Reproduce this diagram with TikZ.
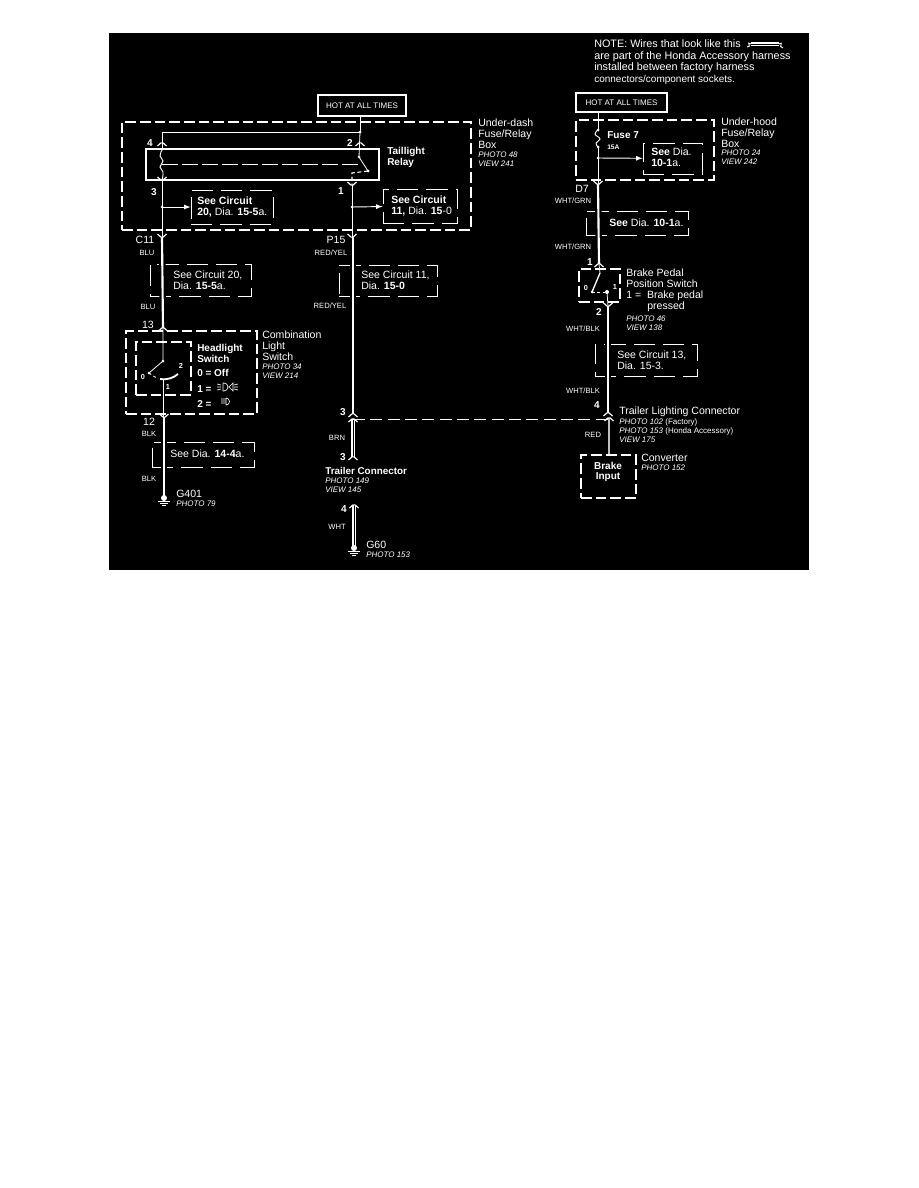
\documentclass[tikz,border=0pt]{standalone}
\usepackage{fontspec}
\setmainfont{Liberation Sans}
\usepackage{tikz}
\usetikzlibrary{shapes,arrows,positioning}

\tikzset{
  txt/.style={white,inner sep=0pt,anchor=west,align=left,font=\fontsize{7.9}{8.3}\selectfont},
  tiny/.style={txt,font=\fontsize{6}{6.8}\selectfont\itshape},
  wirelabel/.style={txt,anchor=center,font=\fontsize{5.7}{6}\selectfont},
  pin/.style={txt,anchor=center,font=\bfseries\fontsize{7.5}{8}\selectfont},
  pinplain/.style={txt,anchor=center,font=\fontsize{7.9}{8}\selectfont},
  bx/.style 2 args={minimum width=#1*0.75pt,minimum height=#2*0.75pt},
  hotbox/.style={draw=white,line width=0.9pt,inner sep=0pt,text=white,font=\fontsize{6}{6}\selectfont},
  compbox/.style={draw=white,dash pattern=on 8pt off 3pt,line width=1.2pt},
  seebox/.style={draw=white,dash pattern=on 16pt off 6pt,line width=0.6pt,text=white},
  wirethin/.style={draw=white,line width=0.6pt},
  wirefat/.style={draw=white,line width=1.6pt,preaction={draw=black,line width=5pt}},
  twin/.style={draw=white,line width=1.5pt,double=black,double distance=0.5pt},
  tap/.style={draw=white,line width=0.7pt,-latex},
  socket/.pic={\draw[white,line width=0.9pt,rounded corners=1pt] (-4.5,3) -- (0,-1) -- (4.5,3);},
  plugy/.pic={\draw[white,line width=0.9pt,rounded corners=1pt] (-4.5,-3) -- (0,1) -- (4.5,-3);},
  gnd/.pic={\fill[white] (0,0) circle (3);
    \draw[white,line width=0.7pt] (-6,3) -- (6,3) (-4,5) -- (4,5) (-2,7) -- (2,7);}
}

\begin{document}
\begin{tikzpicture}[x=0.75pt,y=-0.75pt]
\useasboundingbox (0,0) rectangle (918,1188);
\fill[black] (109,33) rectangle (809,570);

% note at the top
\node[txt,font=\fontsize{8.1}{8.8}\selectfont] (notetext) at (594,62) {NOTE: Wires that look like this\\are part of the Honda Accessory harness\\installed between factory harness\\{\fontsize{7.5}{8}\selectfont connectors/component sockets.}};
\coordinate (sampleL) at (751,44);
\coordinate (sampleR) at (779,44);
\draw[twin] (sampleL) -- (sampleR);
\draw[white,line width=0.7pt] (sampleL) .. controls (745,41) and (753,47) .. (747,47);
\draw[white,line width=0.7pt] (sampleR) .. controls (785,41) and (777,47) .. (783,48);

% under-dash box
\node[hotbox,bx={88}{21}] (hotdash) at (362,105.5) {HOT AT ALL TIMES};
\node[compbox,bx={349}{108}] (dashbox) at (296.5,176) {};
\node[draw=white,line width=1.1pt,bx={233}{31}] (relay) at (262.5,164.5) {};
\node[txt] (dashname) at (478,134) {Under-dash\\Fuse/Relay\\Box};
\node[tiny] (dashphoto) at (478,159.5) {PHOTO 48\\VIEW 241};
\node[txt,font=\bfseries\fontsize{7.5}{8.3}\selectfont] (relayname) at (387,157.5) {Taillight\\Relay};
\node[pin] (pinfour) at (150,143) {4};
\node[pin] (pintwo) at (350,143) {2};
\node[pin] (pinthree) at (154,192) {3};
\node[pin] (pinone) at (341,191) {1};
\node[seebox,bx={82}{34}] (seetwenty) at (232,207) {};
\node[txt] (seetwentyt) at (197,207) {\textbf{See Circuit}\\\textbf{20,} Dia. \textbf{15-5}a.};
\node[seebox,bx={74}{34}] (seeeleven) at (420,206) {};
\node[txt] (seeelevent) at (391,206) {\textbf{See Circuit}\\\textbf{11,} Dia. \textbf{15}-0};

\coordinate (feedT) at (360,116);
\coordinate (feedM) at (360,132);
\coordinate (coilW) at (162,132);
\coordinate (coilT) at (162,150);
\coordinate (coilB) at (162,180);
\coordinate (armT) at (359,157);
\coordinate (armB) at (368,171);
\coordinate (contact) at (352,173);
\coordinate (contactB) at (352,185);
\coordinate (leftJ) at (162,207);
\coordinate (midJ) at (352,207);
\coordinate (leftOut) at (162,237);
\coordinate (midOut) at (352,237);
\coordinate (tipfour) at (162,143);
\coordinate (tiptwo) at (360,143);
\draw[wirethin] (feedT) -- (feedM) -- (coilW) -- (coilT);
\draw[wirethin] (feedM) -- (armT);
\draw[wirethin] (armT) -- (armB);
\draw[white,line width=0.8pt,dash pattern=on 3pt off 2pt] (armB) -- (contact) -- (contactB);
\draw[white,line width=0.7pt] plot[smooth,tension=0.8] coordinates {(coilT) (160,156) (163,161) (160,167) (163,172) (coilB)};
\draw[white,line width=0.6pt,dash pattern=on 12pt off 3pt] (162,164) -- (358,164);
\draw[wirethin] (coilB) -- (leftOut);
\draw[wirethin] (contactB) -- (midOut);
\draw[tap] (leftJ) -- (seetwenty);
\draw[tap] (midJ) -- (seeeleven);
\fill[white] (leftJ) circle (1.5) (midJ) circle (1.5) (feedM) circle (1.5) (armT) circle (1.5) (armB) circle (1.5);

\node[pinplain] (cleven) at (145,240) {C11};
\node[pinplain] (pfifteen) at (336,240) {P15};
\node[wirelabel] (blua) at (147,253) {BLU};
\node[wirelabel] (redyela) at (331,253) {RED/YEL};

% left branch
\node[seebox,bx={101}{32}] (seeleft) at (200.5,280) {};
\node[txt] (seeleftt) at (173,280) {See Circuit 20,\\Dia. \textbf{15-5}a.};
\node[wirelabel] (blub) at (148,307) {BLU};
\node[pinplain] (pinthirteen) at (148,325) {13};
\coordinate (headT) at (163,328);
\draw[wirefat] (leftOut) -- (headT);

\node[compbox,bx={131}{83}] (combobox) at (191.5,372.5) {};
\node[compbox,line width=1pt,bx={55}{53}] (headbox) at (163.5,368.5) {};
\node[txt] (comboname) at (262,346) {Combination\\Light\\Switch};
\node[tiny] (combophoto) at (262,371.5) {PHOTO 34\\VIEW 214};
\node[txt,font=\bfseries\fontsize{7.5}{8.3}\selectfont] (headname) at (197,353.5) {Headlight\\Switch};
\node[txt,font=\bfseries\fontsize{7.5}{8.3}\selectfont] (headoff) at (197,373) {0 = Off};
\node[txt,font=\bfseries\fontsize{7.5}{8.3}\selectfont] (headone) at (197,389) {1 =};
\node[txt,font=\bfseries\fontsize{7.5}{8.3}\selectfont] (headtwo) at (197,404) {2 =};
\node[pin,font=\bfseries\fontsize{5.5}{6}\selectfont] (swzero) at (143,377) {0};
\node[pin,font=\bfseries\fontsize{5.5}{6}\selectfont] (swtwo) at (181,366) {2};
\node[pin,font=\bfseries\fontsize{5.5}{6}\selectfont] (swone) at (168,387) {1};

\coordinate (swT) at (163,361);
\coordinate (swL) at (149,373);
\coordinate (swB) at (163,380);
\coordinate (swR) at (178,374);
\coordinate (headB) at (163,417);
\draw[wirethin] (headT) -- (swT) -- (swL);
\draw[wirethin] (swB) -- (headB);
\draw[white,line width=1.4pt] (160,379) .. controls (168,380) and (173,378) .. (swR);
\draw[white,line width=0.7pt,dash pattern=on 2pt off 2pt] (swL) -- (158,379);
\fill[white] (swT) circle (1.5) (swL) circle (1.5);
% lamp symbols
\draw[white,line width=0.5pt] (217,384) -- (221,385) (217,387) -- (221,387) (217,390) -- (221,389)
  (223,383) -- (224,383) arc (-90:90:4) -- (223,391) -- cycle
  (233,383) -- (229,387) -- (233,391) -- cycle
  (234,385) -- (238,384) (234,387) -- (238,387) (234,389) -- (238,390);
\draw[white,line width=0.5pt] (221,399) -- (225,399) (221,401) -- (225,401) (221,403) -- (225,403) (226,398) -- (226,405) (226,398) arc (-90:90:3.5);

\node[pinplain] (pintwelve) at (149,422) {12};
\node[wirelabel] (blka) at (149,434) {BLK};
\node[seebox,bx={102}{25}] (seedown) at (203,454.5) {};
\node[txt] (seedownt) at (170,454) {See Dia. \textbf{14-4}a.};
\node[wirelabel] (blkb) at (149,479) {BLK};
\coordinate (headOut) at (164,417);
\coordinate (gndA) at (164,498);
\draw[wirefat] (headOut) -- (gndA);
\pic at (gndA) {gnd};
\node[txt] (gfour) at (176,494) {G401};
\node[tiny] (gfourphoto) at (176,504) {PHOTO 79};

% middle branch
\node[seebox,bx={98}{31}] (seemid) at (388,280.5) {};
\node[txt] (seemidt) at (361,280) {See Circuit 11,\\Dia. \textbf{15-0}};
\node[wirelabel] (redyelb) at (330,306) {RED/YEL};
\node[pin] (pinthreea) at (343,412) {3};
\coordinate (midT) at (353,237);
\coordinate (midB) at (353,414);
\coordinate (tapA) at (353,419);
\coordinate (tapB) at (608,419);
\coordinate (trailT) at (353,457);
\draw[wirefat,line width=1.2pt] (midT) -- (midB);
\draw[twin] (tapA) -- (trailT);
\draw[white,line width=0.7pt,dash pattern=on 9pt off 4pt] (tapA) -- (tapB);
\node[wirelabel] (brn) at (337,438) {BRN};
\node[pin] (pinthreeb) at (343,457) {3};
\node[txt,font=\bfseries\fontsize{7.4}{8}\selectfont] (trailname) at (325,471) {Trailer Connector};
\node[tiny] (trailphoto) at (325,485.5) {PHOTO 149\\VIEW 145};
\node[pin] (pinfourb) at (344,509) {4};
\node[wirelabel] (wht) at (337,527) {WHT};
\coordinate (trailB) at (354,505);
\coordinate (gndB) at (354,548);
\draw[twin] (trailB) -- (gndB);
\pic at (gndB) {gnd};
\node[txt] (gsixty) at (366,545) {G60};
\node[tiny] (gsixtyphoto) at (366,555) {PHOTO 153};

% right branch
\node[hotbox,bx={91}{19}] (hothood) at (621.5,102.5) {HOT AT ALL TIMES};
\node[compbox,bx={138}{60}] (hoodbox) at (645,150) {};
\node[txt] (hoodname) at (721,133) {Under-hood\\Fuse/Relay\\Box};
\node[tiny] (hoodphoto) at (721,157.5) {PHOTO 24\\VIEW 242};
\node[txt,font=\bfseries\fontsize{7.5}{8}\selectfont] (fusename) at (607,135) {Fuse 7};
\node[txt,font=\bfseries\fontsize{5}{6}\selectfont] (fuseamp) at (607,147) {15A};
\node[seebox,bx={59}{31}] (seehood) at (672.5,158.5) {};
\node[txt] (seehoodt) at (651,157.5) {\textbf{See} Dia.\\\textbf{10-1}a.};
\node[pinplain] (dseven) at (582,189) {D7};
\coordinate (fuseT) at (598,130);
\coordinate (fuseB) at (598,147);
\coordinate (hoodJ) at (598,158);
\coordinate (hoodB) at (598,184);
\coordinate (hoodIn) at (598,112);
\draw[wirethin] (hoodIn) -- (fuseT);
\draw[white,line width=0.7pt] plot[smooth,tension=0.8] coordinates {(fuseT) (595,134) (600,139) (596,143) (fuseB)};
\draw[wirethin] (fuseB) -- (hoodB);
\draw[tap] (hoodJ) -- (seehood);
\fill[white] (hoodJ) circle (1.5) (fuseT) circle (1.5) (fuseB) circle (1.5);
\node[wirelabel] (whtgrna) at (573,201) {WHT/GRN};
\node[seebox,bx={102}{24}] (seegrn) at (637,223) {};
\node[txt] (seegrnt) at (609,223) {\textbf{See} Dia. \textbf{10-1}a.};
\node[wirelabel] (whtgrnb) at (573,247) {WHT/GRN};
\coordinate (brakeT) at (599,264);
\draw[wirefat] (hoodB) -- (brakeT);

\node[pin] (pinoneb) at (590,262) {1};
\node[compbox,bx={41}{33}] (brakebox) at (599.5,285.5) {};
\node[txt] (brakename) at (626,290) {Brake Pedal\\Position Switch\\1 =\ \ Brake pedal\\\hspace{15.8pt}pressed};
\node[tiny] (brakephoto) at (626,323.5) {PHOTO 46\\VIEW 138};
\node[pin,font=\bfseries\fontsize{5.5}{6}\selectfont] (brzero) at (586,288) {0};
\node[pin,font=\bfseries\fontsize{5.5}{6}\selectfont] (brone) at (615,287) {1};
\coordinate (brakeA) at (600,273);
\coordinate (brakeL) at (592,292);
\coordinate (brakeC) at (607,292);
\coordinate (brakeB) at (608,306);
\draw[wirethin] (brakeT) -- (brakeA);
\draw[white,line width=1pt] (brakeA) -- (brakeL);
\draw[white,line width=0.7pt,dash pattern=on 2pt off 2pt] (brakeL) -- (brakeC);
\draw[wirethin] (brakeC) -- (brakeB);
\fill[white] (brakeL) circle (1.5) (brakeC) circle (2);
\node[pin] (pintwob) at (599,312) {2};
\node[wirelabel] (whtblka) at (583,329) {WHT/BLK};
\node[seebox,bx={102}{32}] (seeblk) at (646,360) {};
\node[txt] (seeblkt) at (617,360) {See Circuit 13,\\Dia. 15-3.};
\node[wirelabel] (whtblkb) at (583,391) {WHT/BLK};
\node[pin] (pinfourc) at (597,405) {4};
\coordinate (lightT) at (608,413);
\draw[wirefat] (brakeB) -- (lightT);
\node[txt] (lightname) at (619,412) {Trailer Lighting Connector};
\node[tiny] (lightphoto) at (619,430.5) {PHOTO 102 {\upshape (Factory)}\\PHOTO 153 {\upshape (Honda Accessory)}\\VIEW 175};
\node[wirelabel] (red) at (593,435) {RED};
\node[compbox,bx={55}{43}] (convbox) at (608.5,476.5) {};
\node[txt,anchor=center,align=center,font=\bfseries\fontsize{7.5}{7.5}\selectfont] (convtext) at (608,472) {Brake\\Input};
\coordinate (lightB) at (609,418);
\draw[draw=white!75!black,line width=2pt] (lightB) -- (convbox.north -| lightB);
\node[txt] (convname) at (641,458) {Converter};
\node[tiny] (convphoto) at (641,468) {PHOTO 152};

% connector tips
\foreach \c in {tipfour,tiptwo,headT,midB,tapA,trailT,trailB,brakeT,lightT,lightB} \pic at (\c) {socket};
\foreach \c in {coilB,contactB,leftOut,midOut,headOut,hoodB,brakeB} \pic at (\c) {plugy};
\end{tikzpicture}
\end{document}
